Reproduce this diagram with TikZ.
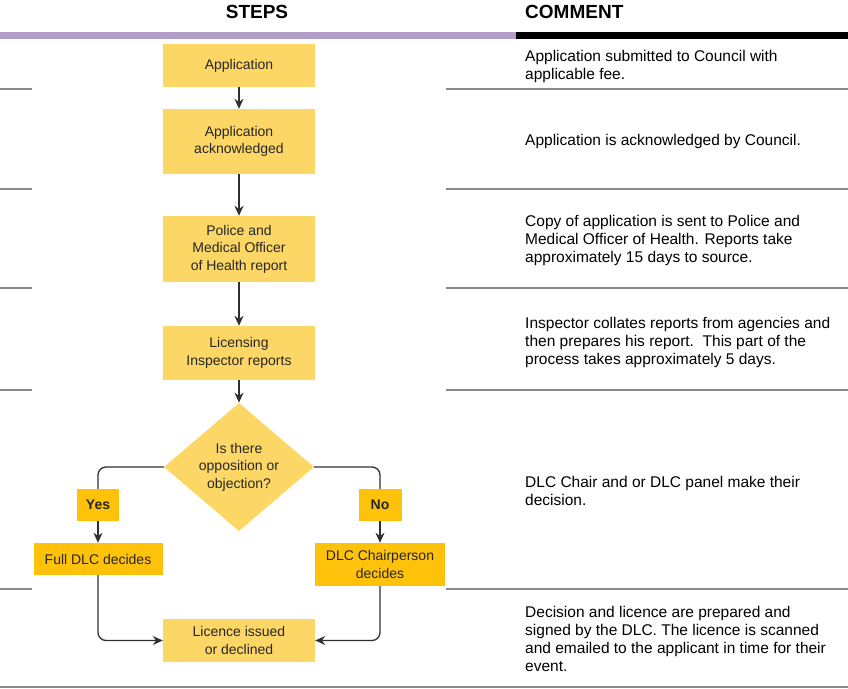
\documentclass[tikz,border=0pt]{standalone}
\usepackage{fontspec}
\setmainfont{Liberation Sans}
\usepackage{xcolor}
\usetikzlibrary{shapes,arrows,positioning,calc,arrows.meta}
\definecolor{boxlight}{HTML}{FDD765}
\definecolor{boxdark}{HTML}{FFC20A}
\definecolor{bandpurple}{HTML}{B19DC8}
\definecolor{rulegray}{HTML}{8A8A8A}
\definecolor{linkgray}{HTML}{303030}

\begin{document}
\begin{tikzpicture}[x=1pt,y=-1pt,
    stepbox/.style={fill=boxlight, minimum width=152pt, inner sep=2pt, align=center,
        font=\fontsize{14}{17.5}\selectfont, text=black!85},
    choicebox/.style={fill=boxdark, inner sep=2pt, align=center,
        font=\fontsize{14}{17.5}\selectfont, text=black!85},
    askbox/.style={diamond, fill=boxlight, minimum width=150pt, minimum height=128pt,
        inner sep=0pt, align=center, font=\fontsize{14}{17.5}\selectfont, text=black!85},
    note/.style={anchor=west, inner sep=0pt, align=left, font=\fontsize{15.5}{18}\selectfont},
    link/.style={draw=linkgray, line width=1.3pt, -{Stealth[length=10pt,width=9pt]}},
    elbow/.style={draw=linkgray, line width=1.3pt, rounded corners=8pt}]
    \useasboundingbox (0,0) rectangle (848,688);
    % headings and bands
    \node[font=\fontsize{19}{20}\selectfont\bfseries] (hsteps) at (257,12) {STEPS};
    \node[font=\fontsize{19}{20}\selectfont\bfseries, anchor=west, inner sep=0pt] (hcomment) at (525,12) {COMMENT};
    \fill[bandpurple] (0,32) rectangle (516,39);
    \fill[black] (516,32) rectangle (848,39);
    \foreach \y in {89,189,288,390,589} {
        \draw[rulegray, line width=1.2pt] (0,\y) -- (32,\y);
        \draw[rulegray, line width=1.2pt] (446,\y) -- (848,\y);
    }
    \draw[rulegray, line width=1.2pt] (0,687) -- (848,687);
    % steps
    \node[stepbox, minimum height=43pt] (app) at (239,65.5) {Application};
    \node[stepbox, minimum height=65pt] (ack) at (239,141.5) {Application\\acknowledged};
    \node[stepbox, minimum height=66pt] (police) at (239,249) {Police and\\Medical Officer\\of Health report};
    \node[stepbox, minimum height=54pt] (inspect) at (239,353) {Licensing\\Inspector reports};
    \node[askbox] (ask) at (239,467) {Is there\\opposition or\\objection?};
    \node[choicebox, font=\fontsize{14}{17}\selectfont\bfseries, minimum width=42pt, minimum height=32pt] (yes) at (98,505) {Yes};
    \node[choicebox, font=\fontsize{14}{17}\selectfont\bfseries, minimum width=43pt, minimum height=32pt] (no) at (380,505) {No};
    \node[choicebox, minimum width=129pt, minimum height=32pt] (full) at (98,559) {Full DLC decides};
    \node[choicebox, minimum width=130pt, minimum height=43pt] (chair) at (380,564.5) {DLC Chairperson\\decides};
    \node[stepbox, minimum height=43pt] (licence) at (239,640.5) {Licence issued\\or declined};
    % connectors
    \draw[link] (app) -- (ack);
    \draw[link] (ack) -- (police);
    \draw[link] (police) -- (inspect);
    \draw[link] (inspect) -- (ask);
    \draw[elbow] (ask.west) -| (yes.north);
    \draw[elbow] (ask.east) -| (no.north);
    \draw[link] (yes) -- (full);
    \draw[link] (no) -- (chair);
    \draw[link, rounded corners=8pt] (full.south) |- (licence.west);
    \draw[link, rounded corners=8pt] (chair.south) |- (licence.east);
    % comments
    \node[note] (c1) at (525,66.5) {Application submitted to Council with\\applicable fee.};
    \node[note] (c2) at (525,141) {Application is acknowledged by Council.};
    \node[note] (c3) at (525,240) {Copy of application is sent to Police and\\Medical Officer of Health. Reports take\\approximately 15 days to source.};
    \node[note] (c4) at (525,342) {Inspector collates reports from agencies and\\then prepares his report.\ \ This part of the\\process takes approximately 5 days.};
    \node[note] (c5) at (525,490.5) {DLC Chair and or DLC panel make their\\decision.};
    \node[note] (c6) at (525,639) {Decision and licence are prepared and\\signed by the DLC. The licence is scanned\\and emailed to the applicant in time for their\\event.};
\end{tikzpicture}
\end{document}
